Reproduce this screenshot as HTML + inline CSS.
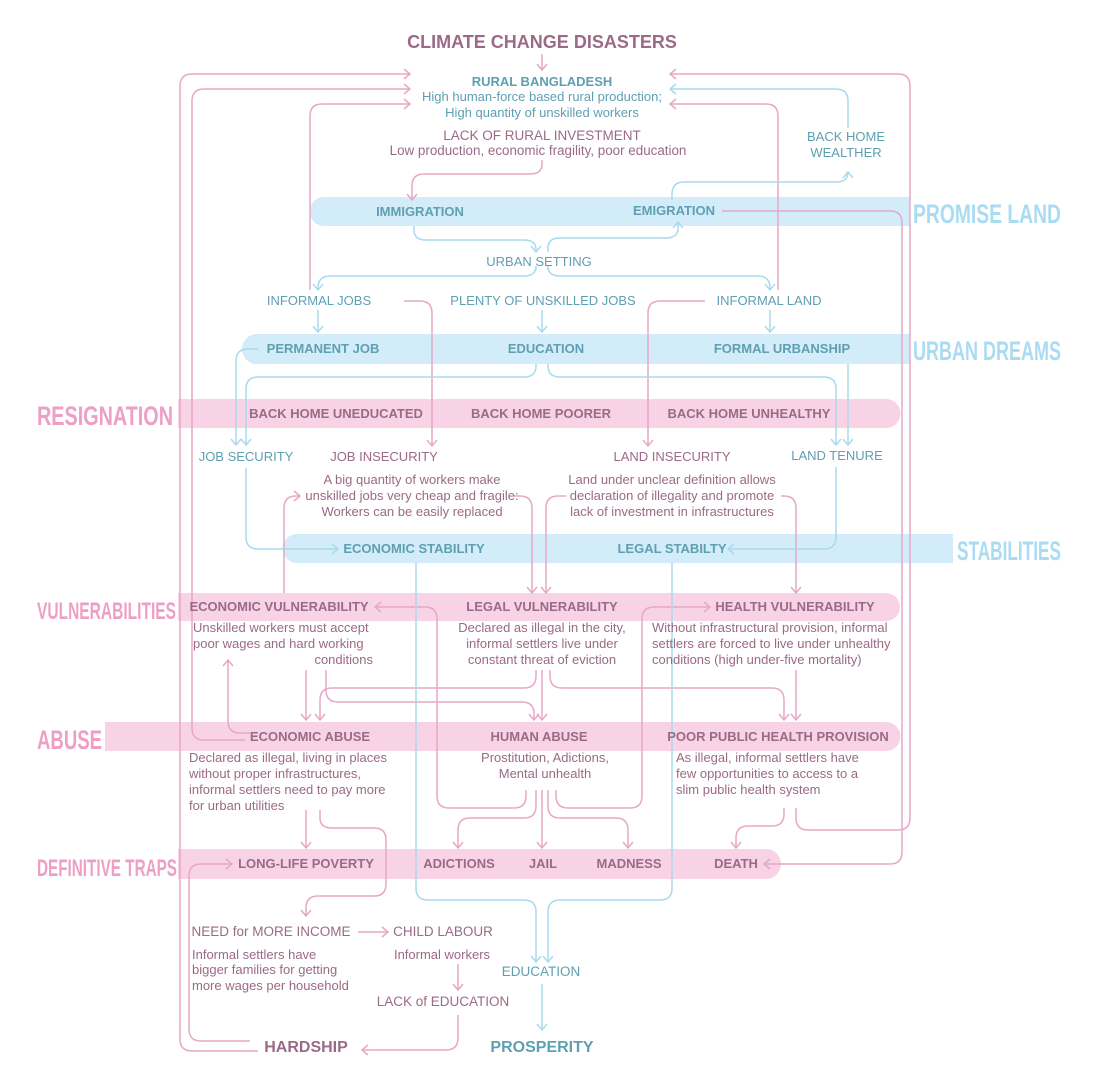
<!DOCTYPE html>
<html><head><meta charset="utf-8"><style>
html,body{margin:0;padding:0;background:#fff;}
svg{display:block;}
.t{font-family:"Liberation Sans",sans-serif;}
.h{font-weight:bold;font-size:13px;}
.m{fill:#9a6a86;}
.b{fill:#5f9fb2;}
.d{font-size:13px;}
.cat{font-family:"Liberation Sans Narrow","Liberation Sans",sans-serif;font-weight:bold;}
.pk{fill:none;stroke:#e6a8c5;stroke-width:1.5;}
.bl{fill:none;stroke:#a9daee;stroke-width:1.5;}
</style></head><body>
<svg width="1120" height="1092" viewBox="0 0 1120 1092" xmlns="http://www.w3.org/2000/svg">
<defs>
<marker id="ap" markerWidth="10" markerHeight="12" refX="7" refY="6" orient="auto" markerUnits="userSpaceOnUse"><path d="M1,1 L7,6 L1,11" fill="none" stroke="#e6a8c5" stroke-width="1.5"/></marker>
<marker id="ab" markerWidth="10" markerHeight="12" refX="7" refY="6" orient="auto" markerUnits="userSpaceOnUse"><path d="M1,1 L7,6 L1,11" fill="none" stroke="#a9daee" stroke-width="1.5"/></marker>
</defs>

<path d="M324,197 H910 V226 H324 A14.5,14.5 0 0 1 324,197 Z" fill="#d2ecf9"/>
<path d="M257,334 H910 V364 H257 A15,15 0 0 1 257,334 Z" fill="#d2ecf9"/>
<path d="M297,534 H953 V563 H297 A14.5,14.5 0 0 1 297,534 Z" fill="#d2ecf9"/>
<path d="M178,399 H886 A14.5,14.5 0 0 1 886,428 H178 Z" fill="#f8d3e5"/>
<path d="M178,593 H886 A14,14 0 0 1 886,621 H178 Z" fill="#f8d3e5"/>
<path d="M105,722 H886 A14.5,14.5 0 0 1 886,751 H105 Z" fill="#f8d3e5"/>
<path d="M178,849 H766 A15,15 0 0 1 766,879 H178 Z" fill="#f8d3e5"/>

<text class="cat" x="37" y="425" font-size="27" fill="#ee9fc6" textLength="136" lengthAdjust="spacingAndGlyphs">RESIGNATION</text>
<text class="cat" x="37" y="619" font-size="24" fill="#ee9fc6" textLength="139" lengthAdjust="spacingAndGlyphs">VULNERABILITIES</text>
<text class="cat" x="37" y="749" font-size="27" fill="#ee9fc6" textLength="65" lengthAdjust="spacingAndGlyphs">ABUSE</text>
<text class="cat" x="37" y="876" font-size="24" fill="#ee9fc6" textLength="140" lengthAdjust="spacingAndGlyphs">DEFINITIVE TRAPS</text>
<text class="cat" x="913" y="223" font-size="27" fill="#a9dcf3" textLength="148" lengthAdjust="spacingAndGlyphs">PROMISE LAND</text>
<text class="cat" x="913" y="360" font-size="27" fill="#a9dcf3" textLength="148" lengthAdjust="spacingAndGlyphs">URBAN DREAMS</text>
<text class="cat" x="957" y="560" font-size="27" fill="#a9dcf3" textLength="104" lengthAdjust="spacingAndGlyphs">STABILITIES</text>

<g class="pk">
<path d="M542,54 V70" marker-end="url(#ap)"/>
<path d="M258,1051 H192 Q180,1051 180,1039 V86 Q180,74 192,74 H410" marker-end="url(#ap)"/>
<path d="M250,1041 H201 Q189,1041 189,1029 V876 Q189,864 201,864 H232" marker-end="url(#ap)"/>
<path d="M245,740 H204 Q192,740 192,728 V101 Q192,89 204,89 H410" marker-end="url(#ap)"/>
<path d="M250,733 H240 Q228,733 228,721 V660" marker-end="url(#ap)"/>
<path d="M310,290 V116 Q310,104 322,104 H410" marker-end="url(#ap)"/>
<path d="M778,290 V116 Q778,104 766,104 H670" marker-end="url(#ap)"/>
<path d="M910,818 V86 Q910,74 898,74 H670" marker-end="url(#ap)"/>
<path d="M796,808 V818 Q796,830 808,830 H898 Q910,830 910,818"/>
<path d="M722,211 H890 Q902,211 902,223 V852 Q902,864 890,864 H764" marker-end="url(#ap)"/>
<path d="M542,160 V164 Q542,174 530,174 H424 Q412,174 412,186 V200" marker-end="url(#ap)"/>
<path d="M404,301 H420 Q432,301 432,313 V446" marker-end="url(#ap)"/>
<path d="M705,301 H660 Q648,301 648,313 V446" marker-end="url(#ap)"/>
<path d="M514,496 H520 Q532,496 532,508 V593" marker-end="url(#ap)"/>
<path d="M566,496 H558 Q546,496 546,508 V593" marker-end="url(#ap)"/>
<path d="M781,496 H784 Q796,496 796,508 V593" marker-end="url(#ap)"/>
<path d="M284,593 V508 Q284,496 296,496 H300" marker-end="url(#ap)"/>
<path d="M526,790 V796 Q526,808 514,808 H449 Q437,808 437,796 V619 Q437,607 425,607 H375" marker-end="url(#ap)"/>
<path d="M556,790 V796 Q556,808 568,808 H630 Q642,808 642,796 V619 Q642,607 654,607 H710" marker-end="url(#ap)"/>
<path d="M306,670 V720" marker-end="url(#ap)"/>
<path d="M326,670 V690 Q326,702 338,702 H522 Q534,702 534,714 V720" marker-end="url(#ap)"/>
<path d="M536,670 V676 Q536,688 524,688 H332 Q320,688 320,700 V720" marker-end="url(#ap)"/>
<path d="M542,670 V720" marker-end="url(#ap)"/>
<path d="M550,670 V676 Q550,688 562,688 H772 Q784,688 784,700 V720" marker-end="url(#ap)"/>
<path d="M796,670 V720" marker-end="url(#ap)"/>
<path d="M306,810 V848" marker-end="url(#ap)"/>
<path d="M320,810 V818 Q320,828 332,828 H374 Q386,828 386,840 V884 Q386,896 374,896 H318 Q306,896 306,908 V916" marker-end="url(#ap)"/>
<path d="M536,790 V806 Q536,818 524,818 H470 Q458,818 458,830 V848" marker-end="url(#ap)"/>
<path d="M542,790 V848" marker-end="url(#ap)"/>
<path d="M548,790 V806 Q548,818 560,818 H616 Q628,818 628,830 V848" marker-end="url(#ap)"/>
<path d="M784,808 V814 Q784,826 772,826 H748 Q736,826 736,838 V848" marker-end="url(#ap)"/>
<path d="M358,932 H388" marker-end="url(#ap)"/>
<path d="M458,964 V990" marker-end="url(#ap)"/>
<path d="M458,1015 V1038 Q458,1050 446,1050 H362" marker-end="url(#ap)"/>
</g>

<g class="bl">
<path d="M414,226 V230 Q414,240 426,240 H524 Q536,240 536,250 V252" marker-end="url(#ab)"/>
<path d="M548,252 V248 Q548,238 560,238 H666 Q678,238 678,228 V222" marker-end="url(#ab)"/>
<path d="M672,200 V194 Q672,182 684,182 H836 Q848,182 848,172" marker-end="url(#ab)"/>
<path d="M848,128 V101 Q848,89 836,89 H670" marker-end="url(#ab)"/>
<path d="M536,270 V266 Q536,276 524,276 H330 Q318,276 318,288 V290" marker-end="url(#ab)"/>
<path d="M548,270 V266 Q548,276 560,276 H758 Q770,276 770,288 V290" marker-end="url(#ab)"/>
<path d="M542,310 V332" marker-end="url(#ab)"/>
<path d="M318,310 V332" marker-end="url(#ab)"/>
<path d="M770,310 V332" marker-end="url(#ab)"/>
<path d="M258,349 H248 Q236,349 236,361 V445" marker-end="url(#ab)"/>
<path d="M536,364 V366 Q536,377 524,377 H258 Q246,377 246,389 V445" marker-end="url(#ab)"/>
<path d="M548,364 V366 Q548,377 560,377 H824 Q836,377 836,389 V445" marker-end="url(#ab)"/>
<path d="M848,364 V445" marker-end="url(#ab)"/>
<path d="M246,468 V537 Q246,549 258,549 H338" marker-end="url(#ab)"/>
<path d="M836,467 V537 Q836,549 824,549 H728" marker-end="url(#ab)"/>
<path d="M416,563 V888 Q416,900 428,900 H524 Q536,900 536,912 V962" marker-end="url(#ab)"/>
<path d="M672,563 V888 Q672,900 660,900 H560 Q548,900 548,912 V962" marker-end="url(#ab)"/>
<path d="M542,984 V1030" marker-end="url(#ab)"/>
</g>

<g class="t" text-anchor="middle">
<text x="542" y="48" font-size="18" font-weight="bold" class="m">CLIMATE CHANGE DISASTERS</text>
<text x="542" y="86" class="h b">RURAL BANGLADESH</text>
<text x="542" y="101" class="d b">High human-force based rural production;</text>
<text x="542" y="117" class="d b">High quantity of unskilled workers</text>
<text x="542" y="140" font-size="13.5" class="m">LACK OF RURAL INVESTMENT</text>
<text x="538" y="155" font-size="13.4" class="m">Low production, economic fragility, poor education</text>
<text x="846" y="141" font-size="13" class="b">BACK HOME</text>
<text x="846" y="157" font-size="13" class="b">WEALTHER</text>

<text x="420" y="216" class="h b">IMMIGRATION</text>
<text x="674" y="215" class="h b">EMIGRATION</text>
<text x="539" y="266" font-size="13" class="b">URBAN SETTING</text>
<text x="319" y="305" font-size="13" class="b">INFORMAL JOBS</text>
<text x="543" y="305" font-size="13" class="b">PLENTY OF UNSKILLED JOBS</text>
<text x="769" y="305" font-size="13" class="b">INFORMAL LAND</text>
<text x="323" y="353" class="h b">PERMANENT JOB</text>
<text x="546" y="353" class="h b">EDUCATION</text>
<text x="782" y="353" class="h b">FORMAL URBANSHIP</text>

<text x="336" y="418" class="h m">BACK HOME UNEDUCATED</text>
<text x="541" y="418" class="h m">BACK HOME POORER</text>
<text x="749" y="418" class="h m">BACK HOME UNHEALTHY</text>

<text x="246" y="461" font-size="13" class="b">JOB SECURITY</text>
<text x="384" y="461" font-size="13" class="m">JOB INSECURITY</text>
<text x="672" y="461" font-size="13" class="m">LAND INSECURITY</text>
<text x="837" y="460" font-size="13" class="b">LAND TENURE</text>
<text x="412" y="484" class="d m">A big quantity of workers make</text>
<text x="412" y="500" class="d m">unskilled jobs very cheap and fragile:</text>
<text x="412" y="516" class="d m">Workers can be easily replaced</text>
<text x="672" y="484" class="d m">Land under unclear definition allows</text>
<text x="672" y="500" class="d m">declaration of illegality and promote</text>
<text x="672" y="516" class="d m">lack of investment in infrastructures</text>

<text x="414" y="553" class="h b">ECONOMIC STABILITY</text>
<text x="672" y="553" class="h b">LEGAL STABILTY</text>

<text x="279" y="611" class="h m" font-size="12.5">ECONOMIC VULNERABILITY</text>
<text x="542" y="611" class="h m" font-size="12.5">LEGAL VULNERABILITY</text>
<text x="795" y="611" class="h m" font-size="12.5">HEALTH VULNERABILITY</text>
<text x="542" y="632" class="d m">Declared as illegal in the city,</text>
<text x="542" y="648" class="d m">informal settlers live under</text>
<text x="542" y="664" class="d m">constant threat of eviction</text>

<text x="310" y="741" class="h m" font-size="12.5">ECONOMIC ABUSE</text>
<text x="539" y="741" class="h m" font-size="12.5">HUMAN ABUSE</text>
<text x="778" y="741" class="h m" font-size="12.5">POOR PUBLIC HEALTH PROVISION</text>
<text x="545" y="762" class="d m">Prostitution, Adictions,</text>
<text x="545" y="778" class="d m">Mental unhealth</text>

<text x="306" y="868" class="h m">LONG-LIFE POVERTY</text>
<text x="459" y="868" class="h m">ADICTIONS</text>
<text x="543" y="868" class="h m">JAIL</text>
<text x="629" y="868" class="h m">MADNESS</text>
<text x="736" y="868" class="h m">DEATH</text>

<text x="271" y="936" font-size="13.5" class="m">NEED for MORE INCOME</text>
<text x="443" y="936" font-size="13.5" class="m">CHILD LABOUR</text>
<text x="442" y="959" class="d m">Informal workers</text>
<text x="443" y="1006" font-size="13.5" class="m">LACK of EDUCATION</text>
<text x="541" y="976" font-size="13.5" class="b">EDUCATION</text>
<text x="306" y="1052" font-size="16" font-weight="bold" class="m">HARDSHIP</text>
<text x="542" y="1052" font-size="16" font-weight="bold" class="b">PROSPERITY</text>
</g>

<g class="t d m" text-anchor="start">
<text x="193" y="632">Unskilled workers must accept</text>
<text x="193" y="648">poor wages and hard working</text>
<text x="373" y="664" text-anchor="end">conditions</text>
<text x="652" y="632">Without infrastructural provision, informal</text>
<text x="652" y="648">settlers are forced to live under unhealthy</text>
<text x="652" y="664">conditions (high under-five mortality)</text>
<text x="189" y="762">Declared as illegal, living in places</text>
<text x="189" y="778">without proper infrastructures,</text>
<text x="189" y="794">informal settlers need to pay more</text>
<text x="189" y="810">for urban utilities</text>
<text x="676" y="762">As illegal, informal settlers have</text>
<text x="676" y="778">few opportunities to access to a</text>
<text x="676" y="794">slim public health system</text>
<text x="192" y="959">Informal settlers have</text>
<text x="192" y="974">bigger families for getting</text>
<text x="192" y="990">more wages per household</text>
</g>
</svg>
</body></html>
